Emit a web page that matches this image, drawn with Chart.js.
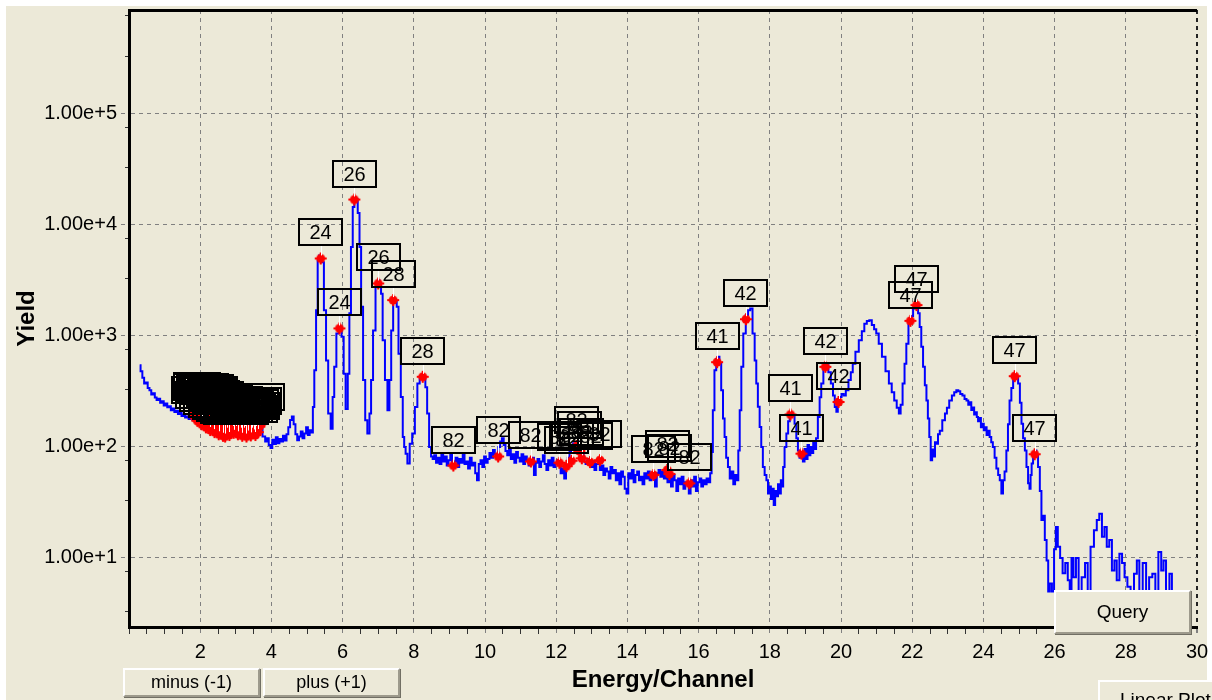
<!DOCTYPE html>
<html>
<head>
<meta charset="utf-8">
<script src="https://cdn.jsdelivr.net/npm/chart.js@4.4.1/dist/chart.umd.min.js"></script>
<style>
  html, body { margin: 0; padding: 0; background: #fff; width: 1212px; height: 700px; overflow: hidden; }
  #panel { position: absolute; left: 6px; top: 6px; width: 1201px; height: 694px; background: #ECE9D8; }
  #wrap { position: absolute; left: 0; top: 0; width: 1212px; height: 700px; }
  .btn {
    position: absolute; box-sizing: border-box; background: #ECE9D8;
    border: 2px solid; border-color: #fff #9d9a8c #9d9a8c #fff;
    box-shadow: 1px 1px 0 #716F64;
    font-family: 'Liberation Sans', Arial, sans-serif; color: #000;
    display: flex; align-items: center; justify-content: center; white-space: nowrap;
  }
</style>
</head>
<body>
<div id="panel"></div>
<div id="wrap"><canvas id="spectrum" width="1212" height="700"></canvas></div>
<div class="btn" style="left:123px;top:668px;width:137px;height:29px;font-size:18px;">minus (-1)</div>
<div class="btn" style="left:263px;top:668px;width:137px;height:29px;font-size:18px;">plus (+1)</div>
<div class="btn" style="left:1054px;top:590px;width:137px;height:44px;font-size:19px;">Query</div>
<div class="btn" style="left:1098px;top:680px;width:150px;height:40px;font-size:19px;justify-content:flex-start;padding-left:20px;">Linear Plot</div>

<script>
// ---- Spectrum: energy (keV) and yield, by region ----
// Low-energy background, 0.3 - 5.15 keV
const bgKeV = [0.30,0.35,0.40,0.45,0.50,0.55,0.60,0.65,0.70,0.75,0.80,0.85,0.90,0.95,1.00,1.05,1.10,1.15,1.20,1.25,
  1.30,1.35,1.40,1.45,1.50,1.55,1.60,1.65,1.70,1.75,
  1.80,1.90,2.00,2.10,2.20,2.30,2.40,2.50,2.60,2.70,2.80,2.90,3.00,3.10,3.20,3.30,3.40,3.50,3.60,3.70,3.80,
  3.85,3.90,3.95,4.00,4.05,4.10,4.15,4.20,4.25,4.30,4.35,4.40,4.45,4.50,4.55,4.60,4.65,4.70,4.75,4.80,
  4.85,4.90,4.95,5.00,5.05,5.10,5.15];
const bgCounts = [545,480,420,372,380,340,324,296,305,278,264,272,250,258,236,246,228,232,214,222,
  206,212,198,205,190,196,184,188,178,182,
  176,168,162,154,146,150,136,130,126,122,130,138,134,128,124,122,126,132,142,150,124,
  112,120,104,98,116,106,122,108,118,112,126,114,130,150,175,188,160,130,115,124,
  138,120,132,150,128,141,135];

// Cr / Fe / Ni K lines, 5.18 - 8.51 keV
const tmKeV = [5.18,5.23,5.28,5.32,5.36,5.40,5.44,5.51,5.56,5.63,5.70,5.74,5.79,5.86,5.93,
  6.01,6.05,6.12,6.17,6.21,6.26,6.31,6.35,6.40,6.45,6.50,6.54,6.61,6.66,6.73,6.78,6.82,6.89,6.96,
  7.02,7.06,7.10,7.15,7.23,7.29,7.34,7.39,7.45,7.50,7.54,7.60,7.67,7.71,7.75,7.79,7.85,7.92,7.99,
  8.07,8.13,8.20,8.26,8.30,8.35,8.40,8.46,8.51];
const tmCounts = [229,490,1700,4800,5300,5200,4600,1700,600,200,146,282,526,1050,1200,
  980,456,220,456,1600,6300,14500,17500,17000,12800,6300,1830,400,174,132,200,400,1120,2750,
  3150,3000,2400,915,400,214,400,1120,2130,2050,1830,690,282,123,100,87,71,107,132,
  229,372,430,440,420,345,200,100,82];

// Pb L-line plateau, 8.55 - 16.35 keV
const pbKeV = [8.55,8.60,8.65,8.70,8.75,8.80,8.85,8.90,8.95,9.00,
  9.05,9.10,9.15,9.20,9.25,9.30,9.35,9.40,9.45,9.50,
  9.55,9.60,9.65,9.70,9.75,9.80,9.85,9.90,9.95,10.00,
  10.05,10.10,10.15,10.20,10.25,10.30,10.35,10.40,10.45,10.50,
  10.55,10.60,10.65,10.70,10.75,10.80,10.85,10.90,10.95,11.00,
  11.05,11.10,11.15,11.20,11.25,11.30,11.35,11.40,11.45,11.50,
  11.55,11.60,11.65,11.70,11.75,11.80,11.85,11.90,11.95,12.00,
  12.05,12.10,12.15,12.20,12.25,12.30,12.35,12.40,12.45,12.50,
  12.55,12.60,12.65,12.70,12.75,12.80,12.85,12.90,12.95,13.00,
  13.05,13.10,13.15,13.20,13.25,13.30,13.35,13.40,13.45,13.50,
  13.55,13.60,13.65,13.70,13.75,13.80,13.85,13.90,13.95,14.00,
  14.05,14.10,14.15,14.20,14.25,14.30,14.35,14.40,14.45,14.50,
  14.55,14.60,14.65,14.70,14.75,14.80,14.85,14.90,14.95,15.00,
  15.05,15.10,15.15,15.20,15.25,15.30,15.35,15.40,15.45,15.50,
  15.55,15.60,15.65,15.70,15.75,15.80,15.85,15.90,15.95,16.00,
  16.05,16.10,16.15,16.20,16.25,16.30,16.35];
const pbCounts = [78,84,72,80,70,88,74,82,68,76,
  86,68,74,80,66,78,72,85,70,74,
  64,80,68,72,58,50,70,76,66,82,
  72,78,88,80,94,86,82,100,112,120,
  104,92,84,96,78,86,72,90,80,74,
  86,70,82,76,68,74,80,56,72,78,
  66,74,84,70,62,76,68,80,66,72,
  76,70,58,64,52,68,80,92,100,108,
  96,102,88,80,84,74,70,78,72,66,
  74,62,70,76,62,68,56,64,60,52,
  66,58,62,50,58,46,60,54,42,38,
  58,52,62,48,56,60,50,54,46,58,
  52,60,50,56,52,44,58,62,54,60,
  52,58,48,54,44,56,50,40,52,46,
  54,42,48,46,38,50,44,54,40,48,
  52,44,50,46,52,48,58];

// Nb / Mo / Ag K lines and scatter hump, 16.38 - 25.61 keV
const hvKeV = [16.38,16.42,16.47,16.52,16.56,16.61,16.66,16.71,16.75,16.80,16.85,16.90,16.95,17.00,17.05,17.10,
  17.13,17.18,17.22,17.29,17.36,17.42,17.48,17.55,17.60,17.64,17.69,17.74,17.78,17.83,17.88,17.93,
  17.97,18.01,18.05,18.09,18.13,18.17,18.21,18.25,18.29,18.33,18.36,18.39,18.44,18.49,18.54,18.58,
  18.63,18.67,18.72,18.77,18.81,18.86,18.91,18.95,19.00,19.04,19.08,19.12,19.16,19.20,19.24,19.28,
  19.32,19.38,19.42,19.47,19.54,19.61,19.68,19.75,19.80,19.85,19.89,19.93,19.98,20.05,20.10,20.17,
  20.25,20.30,20.36,20.45,20.55,20.62,20.69,20.76,20.83,20.90,20.96,21.02,21.10,21.20,21.30,21.39,
  21.46,21.53,21.60,21.65,21.70,21.76,21.81,21.86,21.93,22.00,22.05,22.10,22.14,22.19,22.23,22.28,
  22.33,22.38,22.42,22.46,22.50,22.54,22.58,22.62,22.66,22.70,22.75,22.80,22.89,22.95,23.00,23.08,
  23.15,23.21,23.27,23.32,23.38,23.44,23.50,23.55,23.60,23.64,23.68,23.72,23.76,23.80,23.83,23.87,
  23.91,23.95,23.99,24.03,24.07,24.11,24.15,24.20,24.24,24.29,24.34,24.39,24.44,24.48,24.53,24.57,
  24.62,24.67,24.71,24.76,24.81,24.86,24.90,24.95,25.00,25.05,25.09,25.14,25.19,25.23,25.28,25.31,
  25.34,25.37,25.42,25.47,25.51,25.56,25.61];
const hvCounts = [90,214,490,620,647,560,324,180,123,80,66,52,60,46,56,50,
  93,214,526,1050,1540,1700,1766,1050,600,372,230,151,100,66,56,50,
  38,44,34,42,30,40,36,46,38,50,44,66,100,132,170,186,
  200,190,162,120,93,80,88,74,96,78,104,84,100,88,110,96,
  120,186,280,372,526,545,470,372,290,229,207,240,282,300,290,324,
  400,470,560,720,915,1100,1283,1360,1384,1250,1150,1050,850,647,480,372,
  310,262,225,200,240,372,560,850,1333,1500,1766,1900,1960,1600,1200,800,
  526,360,262,180,123,76,95,82,110,107,130,140,174,200,225,262,
  290,310,324,318,300,290,270,262,240,252,215,226,196,205,186,170,
  182,150,162,141,150,128,140,123,110,100,80,64,56,50,38,50,
  60,93,160,262,340,400,428,420,372,250,162,120,93,66,47,42,
  56,71,88,93,84,66,40];

// High-energy tail, 25.65 - 29.31 keV
const tailKeV = [25.65,25.70,25.75,25.80,25.84,25.89,25.96,26.01,26.06,26.12,26.19,26.26,26.34,26.40,26.45,
  26.50,26.56,26.64,26.71,26.81,26.90,26.96,27.06,27.15,27.22,27.29,27.37,27.43,27.50,27.57,27.65,
  27.71,27.78,27.86,27.93,28.00,28.09,28.18,28.28,28.34,28.42,28.53,28.61,28.70,28.79,28.87,28.96,
  29.03,29.09,29.17,29.28,29.31];
const tailCounts = [22,24,14.5,9.5,5,5.9,5,12,19,12.6,10,7.3,9,6.3,5,
  10,6.7,10,5,6.7,9,5,12.6,17.8,22,25,15.5,19,12.6,14.5,7.7,
  9.5,6.3,10.9,9,6.7,5.5,5,7.2,9.5,5,9,5,6.7,7.2,5,11.3,
  7.7,9.5,5,7.2,5];

// ---- Identified peaks: energy, yield, atomic number ----
// light-element L/K/M lines crowded below 4 keV
const lightPeakKeV = [1.82,1.86,1.88,1.92,1.95,1.98,2.01,2.04,2.07,2.10,2.13,2.16,2.19,2.22,2.25,2.28,
  2.31,2.34,2.37,2.40,2.43,2.46,2.49,2.52,2.55,2.58,2.61,2.64,2.67,2.70,2.73,2.76,2.79,2.82,2.85,
  2.88,2.91,2.94,3.00,3.03,3.06,3.12,3.15,3.18,3.24,3.27,3.30,3.33,3.36,3.42,3.45,3.50,3.55,3.58,
  3.62,3.66,3.74];
const lightPeakCounts = [190,200,205,172,208,198,195,160,204,185,192,150,200,176,188,142,
  196,165,182,136,190,158,175,130,168,150,172,126,160,124,165,140,150,128,158,
  150,145,134,145,150,130,155,140,126,140,145,124,132,150,127,140,135,128,145,
  136,152,165];
const lightPeakLabels = ['15','13','14','15','14','16','13','42','15','15','14','16','16','82','15','41',
  '82','16','16','42','42','82','17','17','82','17','45','45','17','82','47','45','18','17','45',
  '47','18','18','47','47','18','45','19','47','82','82','19','19','47','19','53','53','20','19',
  '53','53','20'];
// transition-metal, lead and heavy-element lines
const peakKeV = [5.385,5.91,6.33,7.00,7.42,8.25,
  9.11,10.37,11.29,12.09,12.29,12.43,12.58,12.65,12.72,12.95,13.23,14.73,15.12,15.18,15.74,
  16.52,17.33,18.58,18.89,19.56,19.93,21.95,22.12,24.88,25.44];
const peakCounts = [4980,1167,16900,2965,2100,428,
  68,82,74,72,67,75,102,92,79,73,76,56,62,57,47,
  580,1413,196,87,526,254,1365,1893,434,86];
const peakLabels = ['24','24','26','26','28','28',
  '82','82','82','82','82','82','82','82','82','82','82','82','82','82','82',
  '41','42','41','41','42','42','47','47','47','47'];

// ---- Axis ticks ----
const xLabelTicks = [2,4,6,8,10,12,14,16,18,20,22,24,26,28,30];
const yMajorTicks = [10,100,1000,10000,100000];
const yMinorTicks = [3.3,7.6,33,76,330,760,3300,7600,33000,76000,330000,760000];

const FONT = "'Liberation Sans', Arial, sans-serif";

const spectrum = []
  .concat(bgKeV.map((e, i) => ({x: e, y: bgCounts[i]})))
  .concat(tmKeV.map((e, i) => ({x: e, y: tmCounts[i]})))
  .concat(pbKeV.map((e, i) => ({x: e, y: pbCounts[i]})))
  .concat(hvKeV.map((e, i) => ({x: e, y: hvCounts[i]})))
  .concat(tailKeV.map((e, i) => ({x: e, y: tailCounts[i]})));
const allPeakLabels = lightPeakLabels.concat(peakLabels);
const peaks = lightPeakKeV.map((e, i) => ({x: e, y: lightPeakCounts[i]}))
  .concat(peakKeV.map((e, i) => ({x: e, y: peakCounts[i]})));

// red peak marker: dot with a small cross
function peakMarker() {
  const m = document.createElement('canvas');
  m.width = 14; m.height = 14;
  const g = m.getContext('2d');
  g.fillStyle = '#ff0000';
  g.beginPath(); g.arc(7, 7, 4.5, 0, Math.PI * 2); g.fill();
  g.strokeStyle = '#ff0000'; g.lineWidth = 2;
  g.beginPath(); g.moveTo(1, 7); g.lineTo(13, 7); g.moveTo(7, 1); g.lineTo(7, 13); g.stroke();
  return m;
}

const isMajorX = c => c.tick && xLabelTicks.includes(c.tick.value);
const isMajorY = c => c.tick && yMajorTicks.includes(c.tick.value);

// plot frame top edge
const framePlugin = {
  id: 'frameTop',
  beforeDatasetsDraw(chart) {
    const {ctx, chartArea: a} = chart;
    ctx.save();
    ctx.strokeStyle = '#000'; ctx.lineWidth = 3;
    ctx.beginPath(); ctx.moveTo(a.left, a.top + 0.5); ctx.lineTo(a.right, a.top + 0.5); ctx.stroke();
    ctx.restore();
  }
};

// boxed atomic-number tags above each peak marker
const peakTagPlugin = {
  id: 'peakTags',
  afterDatasetsDraw(chart) {
    const meta = chart.getDatasetMeta(1);
    const c = chart.ctx;
    const W = 43, H = 26, GAP = 13;
    c.save();
    c.strokeStyle = '#ffffff'; c.lineWidth = 1;
    meta.data.forEach(pt => {
      const px = Math.round(pt.x) + 0.5;
      c.beginPath(); c.moveTo(px, pt.y - GAP); c.lineTo(px, pt.y - 3); c.stroke();
    });
    c.strokeStyle = '#000'; c.lineWidth = 2;
    c.fillStyle = '#000';
    c.font = '20px ' + FONT;
    c.textAlign = 'center'; c.textBaseline = 'middle';
    meta.data.forEach((pt, i) => {
      const bx = Math.round(pt.x - W / 2), by = Math.round(pt.y - GAP - H);
      c.strokeRect(bx, by, W, H);
      c.fillText(allPeakLabels[i], bx + W / 2, by + H / 2 + 1);
    });
    c.restore();
  }
};

new Chart(document.getElementById('spectrum'), {
  type: 'scatter',
  data: {
    datasets: [
      {
        type: 'line', data: spectrum, borderColor: '#0000ff', borderWidth: 2,
        pointRadius: 0, stepped: 'middle', tension: 0, order: 2
      },
      {
        type: 'scatter', data: peaks, pointStyle: peakMarker(), pointRadius: 6, order: 1
      }
    ]
  },
  options: {
    responsive: false, animation: false, events: [],
    layout: { padding: { left: 0, top: 10, right: 15, bottom: 0 } },
    plugins: { legend: { display: false }, tooltip: { enabled: false } },
    scales: {
      x: {
        type: 'linear', min: 0, max: 30,
        afterFit(s) { s.height = 73; s.paddingLeft = 0; s.paddingRight = 0; },
        ticks: {
          stepSize: 0.5, autoSkip: false, maxRotation: 0, padding: 5, color: '#000',
          font: { family: FONT, size: 20 },
          callback: v => xLabelTicks.includes(v) ? String(v) : ''
        },
        grid: {
          color: c => !isMajorX(c) ? 'rgba(0,0,0,0)' : (c.tick.value === 30 ? '#222' : '#808080'),
          lineWidth: c => (c.tick && c.tick.value === 30) ? 2 : 1,
          tickLength: 8,
          tickColor: c => isMajorX(c) ? '#808080' : '#333',
          tickBorderDash: c => isMajorX(c) ? [4, 4] : [5, 100]
        },
        border: { color: '#000', width: 3, dash: c => c.type === 'tick' ? [4, 4] : [] },
        title: {
          display: true, text: 'Energy/Channel', color: '#000',
          font: { family: FONT, size: 24, weight: 'bold' }, padding: { top: 0, bottom: 5.6 }
        }
      },
      y: {
        type: 'logarithmic', min: 2.39, max: 860000,
        afterFit(s) { s.width = 129; s.paddingTop = 0; s.paddingBottom = 0; },
        afterBuildTicks(s) {
          s.ticks = yMajorTicks.concat(yMinorTicks).sort((a, b) => a - b)
            .map(v => ({ value: v, major: yMajorTicks.includes(v) }));
        },
        ticks: {
          autoSkip: false, padding: 4, color: '#000', font: { family: FONT, size: 20 },
          callback: v => yMajorTicks.includes(v) ? v.toExponential(2) : ''
        },
        grid: {
          color: c => isMajorY(c) ? '#808080' : 'rgba(0,0,0,0)',
          lineWidth: 1, tickLength: 8,
          tickColor: c => isMajorY(c) ? '#808080' : '#333',
          tickBorderDash: c => isMajorY(c) ? [4, 4] : [0, 4, 3, 20]
        },
        border: { color: '#000', width: 3, dash: c => c.type === 'tick' ? [4, 4] : [] },
        title: {
          display: true, text: 'Yield', color: '#000',
          font: { family: FONT, size: 24, weight: 'bold' }, padding: { top: 12.6, bottom: 0 }
        }
      }
    }
  },
  plugins: [framePlugin, peakTagPlugin]
});
</script>
</body>
</html>
